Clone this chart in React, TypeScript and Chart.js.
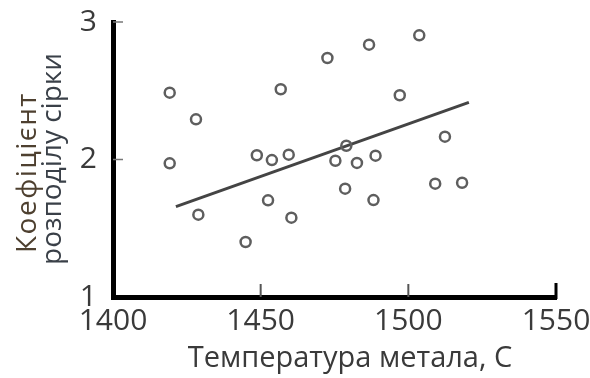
import React, { useEffect, useRef } from "react";
import { Chart, registerables } from "chart.js";

Chart.register(...registerables);

// Scatter data: metal temperature (°C) vs sulphur distribution coefficient
const temperature = [
  1419.2, 1419.2, 1428.1, 1428.9, 1444.9, 1448.7, 1453.8, 1452.5, 1456.8, 1459.5,
  1460.4, 1472.6, 1475.3, 1479.0, 1478.6, 1482.6, 1486.7, 1488.9, 1488.2, 1497.1,
  1503.7, 1512.4, 1509.1, 1518.2,
];
const coefficient = [
  2.486, 1.972, 2.292, 1.599, 1.4, 2.031, 1.996, 1.703, 2.511, 2.035,
  1.577, 2.738, 1.991, 2.1, 1.788, 1.975, 2.835, 2.028, 1.705, 2.467,
  2.903, 2.166, 1.824, 1.831,
];
// Trend line end points
const trendX = [1421.3, 1520.5];
const trendY = [1.657, 2.416];

const xTicks = [1400, 1450, 1500, 1550];
const yTicks = [1, 2, 3];
const xTitle = "Температура метала, С";
const yTitleLines = ["Коефіцієнт", "розподілу сірки"];

const FONT = "'Open Sans', 'Noto Sans', sans-serif";

const innerTicks = {
  id: "innerTicks",
  afterDatasetsDraw(chart: any) {
    const { ctx, scales } = chart;
    const x = scales.x;
    const y = scales.y;
    const bottom = chart.chartArea.bottom;
    const left = chart.chartArea.left;
    ctx.save();
    [1450, 1500].forEach((v) => {
      const px = x.getPixelForValue(v);
      ctx.strokeStyle = "#555";
      ctx.lineWidth = 2;
      ctx.beginPath();
      ctx.moveTo(px, bottom);
      ctx.lineTo(px, bottom - 13);
      ctx.stroke();
    });
    const pEnd = x.getPixelForValue(1550);
    ctx.strokeStyle = "#000";
    ctx.lineWidth = 3;
    ctx.beginPath();
    ctx.moveTo(pEnd, bottom + 2);
    ctx.lineTo(pEnd, bottom - 14);
    ctx.stroke();
    [2, 3].forEach((v) => {
      const py = y.getPixelForValue(v);
      ctx.strokeStyle = "#777";
      ctx.lineWidth = 1.5;
      ctx.beginPath();
      ctx.moveTo(left, py);
      ctx.lineTo(left + 10, py);
      ctx.stroke();
    });
    ctx.restore();
  },
  afterDraw(chart: any) {
    const { ctx } = chart;
    ctx.save();
    // y-axis title (two lines, rotated)
    ctx.font = `28px ${FONT}`;
    ctx.textAlign = "left";
    ctx.textBaseline = "alphabetic";
    const colors = ["#4e4030", "#3a4048"];
    const xs = [36, 61];
    const ys = [253, 265];
    const spacing = ["1.5px", "0px"];
    yTitleLines.forEach((t, i) => {
      ctx.save();
      (ctx as any).letterSpacing = spacing[i];
      ctx.translate(xs[i], ys[i]);
      ctx.rotate(-Math.PI / 2);
      ctx.fillStyle = colors[i];
      ctx.fillText(t, 0, 0);
      ctx.restore();
    });
    // x-axis title
    ctx.font = `29px ${FONT}`;
    ctx.textAlign = "center";
    ctx.textBaseline = "middle";
    ctx.fillStyle = "#3a3a3a";
    ctx.fillText(xTitle, 350, 359);
    ctx.restore();
  },
};

export default function App() {
  const ref = useRef<HTMLCanvasElement | null>(null);
  useEffect(() => {
    if (!ref.current) return;
    const chart = new Chart(ref.current, {
      type: "scatter",
      data: {
        datasets: [
          {
            type: "scatter",
            data: temperature.map((t, i) => ({ x: t, y: coefficient[i] })),
            pointRadius: 5,
            pointBorderWidth: 2.5,
            pointBorderColor: "#5e5e5e",
            pointBackgroundColor: "rgba(0,0,0,0)",
            order: 0,
          },
          {
            type: "line",
            data: trendX.map((t, i) => ({ x: t, y: trendY[i] })),
            borderColor: "#444",
            borderWidth: 3,
            pointRadius: 0,
            showLine: true,
            fill: false,
            order: 1,
          } as any,
        ],
      },
      options: {
        responsive: false,
        animation: false,
        layout: { padding: { top: 22, right: 34, left: 0, bottom: 0 } },
        plugins: { legend: { display: false }, tooltip: { enabled: false } },
        scales: {
          x: {
            type: "linear",
            min: 1400,
            max: 1550,
            afterBuildTicks: (s: any) => {
              s.ticks = xTicks.map((v) => ({ value: v }));
            },
            afterFit: (s: any) => {
              s.height = 81;
              s.paddingLeft = 0;
              s.paddingRight = 0;
            },
            grid: { display: false, drawTicks: false },
            border: { display: true, color: "#000", width: 5 },
            ticks: {
              padding: 6,
              color: "#3a3a3a",
              font: { family: FONT, size: 30 },
              maxRotation: 0,
              autoSkip: false,
              callback: (v: any) => String(v),
            },
            title: { display: false },
          },
          y: {
            type: "linear",
            min: 1,
            max: 3,
            afterBuildTicks: (s: any) => {
              s.ticks = yTicks.map((v) => ({ value: v }));
            },
            afterFit: (s: any) => {
              s.width = 113;
              s.paddingTop = 0;
              s.paddingBottom = 0;
            },
            grid: { display: false, drawTicks: false },
            border: { display: true, color: "#000", width: 5 },
            ticks: {
              padding: 16,
              color: "#3a3a3a",
              font: { family: FONT, size: 30 },
              callback: (v: any) => String(v),
            },
          },
        },
      },
      plugins: [innerTicks],
    });
    return () => chart.destroy();
  }, []);
  return (
    <div style={{ position: "absolute", left: 0, top: 0, width: 590, height: 378, background: "#fff" }}>
      <canvas ref={ref} width={590} height={378} style={{ width: 590, height: 378 }} />
    </div>
  );
}
